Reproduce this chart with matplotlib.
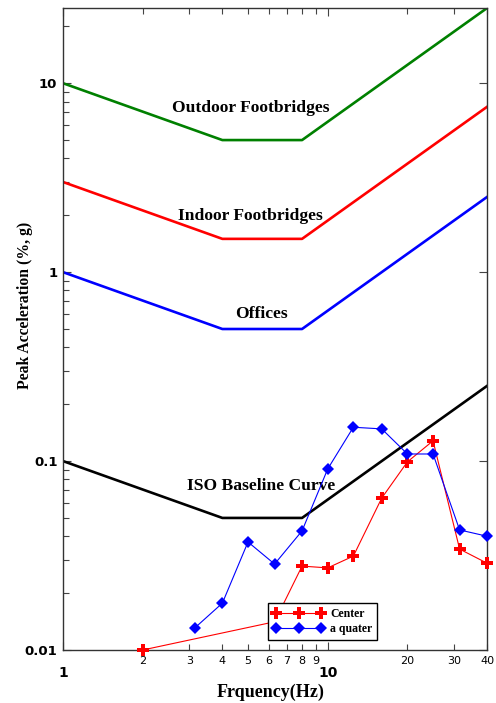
import numpy as np
import matplotlib.pyplot as plt
from matplotlib.ticker import FixedLocator, FixedFormatter, NullFormatter

# ISO criteria curves (peak acceleration, %g) at the corner frequencies
corner_freq = [1, 4, 8, 40]
iso_baseline = [0.1, 0.05, 0.05, 0.25]
offices = [1.0, 0.5, 0.5, 2.5]
indoor_footbridges = [3.0, 1.5, 1.5, 7.5]
outdoor_footbridges = [10.0, 5.0, 5.0, 25.0]

# measured responses
center_freq = [2, 6.3, 8, 10, 12.5, 16, 20, 25, 31.5, 40]
center_acc = [0.010, 0.0141, 0.0278, 0.0272, 0.0314, 0.0637, 0.099, 0.128, 0.0342, 0.0288]
quarter_freq = [3.15, 4, 5, 6.3, 8, 10, 12.5, 16, 20, 25, 31.5, 40]
quarter_acc = [0.0131, 0.0177, 0.0373, 0.0285, 0.0427, 0.0908, 0.151, 0.148, 0.109, 0.109, 0.0432, 0.040]

serif = ['Liberation Serif', 'DejaVu Serif']

fig = plt.figure(figsize=(4.96, 7.03), dpi=100)
ax = fig.add_axes([0.127, 0.0754, 0.855, 0.9132])

lw = 1.9
ax.plot(corner_freq, outdoor_footbridges, color='#008000', lw=lw)
ax.plot(corner_freq, indoor_footbridges, color='#ff0000', lw=lw)
ax.plot(corner_freq, offices, color='#0000ff', lw=lw)
ax.plot(corner_freq, iso_baseline, color='black', lw=lw)

ax.plot(center_freq, center_acc, color='#ff0000', lw=0.8, marker='P',
        markersize=8, markeredgewidth=0, label='Center', clip_on=False, zorder=5)
ax.plot(quarter_freq, quarter_acc, color='#0000ff', lw=0.8, marker='D',
        markersize=6, markeredgewidth=0, label='a quater', clip_on=False, zorder=5)

ax.set_xscale('log')
ax.set_yscale('log')
ax.set_xlim(1, 40)
ax.set_ylim(0.01, 25)

# curve names
lab_kw = dict(ha='center', va='center', fontsize=12.6, fontweight='bold', family=serif)
ax.text(5.12, 7.38, 'Outdoor Footbridges', **lab_kw)
ax.text(5.1, 1.98, 'Indoor Footbridges', **lab_kw)
ax.text(5.64, 0.60, 'Offices', **lab_kw)
ax.text(5.6, 0.074, 'ISO Baseline Curve', **lab_kw)

# x ticks: bold decades set lower, plain minor labels
ax.xaxis.set_major_locator(FixedLocator([1, 10]))
ax.xaxis.set_major_formatter(FixedFormatter(['1', '10']))
minor_x = [2, 3, 4, 5, 6, 7, 8, 9, 20, 30, 40]
ax.xaxis.set_minor_locator(FixedLocator(minor_x))
ax.xaxis.set_minor_formatter(FixedFormatter([str(v) for v in minor_x]))
ax.tick_params(axis='x', which='major', labelsize=10, pad=11.5)
ax.tick_params(axis='x', which='minor', labelsize=8, pad=4)
for t in ax.get_xticklabels(which='major'):
    t.set_fontweight('bold')

ax.yaxis.set_major_locator(FixedLocator([0.01, 0.1, 1, 10]))
ax.yaxis.set_major_formatter(FixedFormatter(['0.01', '0.1', '1', '10']))
ax.yaxis.set_minor_formatter(NullFormatter())
ax.tick_params(axis='y', which='major', labelsize=9.5, pad=4)
for t in ax.get_yticklabels():
    t.set_fontweight('bold')

ax.tick_params(which='both', direction='in', top=True, right=True, color='#444444')
ax.tick_params(which='major', length=6, width=0.8)
ax.tick_params(which='minor', length=4, width=0.8)
ax.tick_params(axis='y', which='minor', right=False)
for s in ax.spines.values():
    s.set_linewidth(1.0)
    s.set_color('#333333')

ax.set_xlabel('Frquency(Hz)', fontsize=13, fontweight='bold', family=serif)
ax.xaxis.set_label_coords(0.49, -0.0654)
ax.xaxis.label.set_va('center')
ax.set_ylabel('Peak Acceleration (%, g)', fontsize=11.3, fontweight='bold', family=serif)
ax.yaxis.set_label_coords(-0.0896, 0.537)
ax.yaxis.label.set_va('center')

leg = ax.legend(loc='lower left', bbox_to_anchor=(0.483, 0.0156), numpoints=3,
                handlelength=4.4, fancybox=False, framealpha=1, borderpad=0.4,
                labelspacing=0.3, handletextpad=0.5, borderaxespad=0,
                prop={'family': serif, 'weight': 'bold', 'size': 8.5})
leg.get_frame().set_edgecolor('black')
leg.get_frame().set_linewidth(1.0)

fig.savefig('out.png', dpi=100)
